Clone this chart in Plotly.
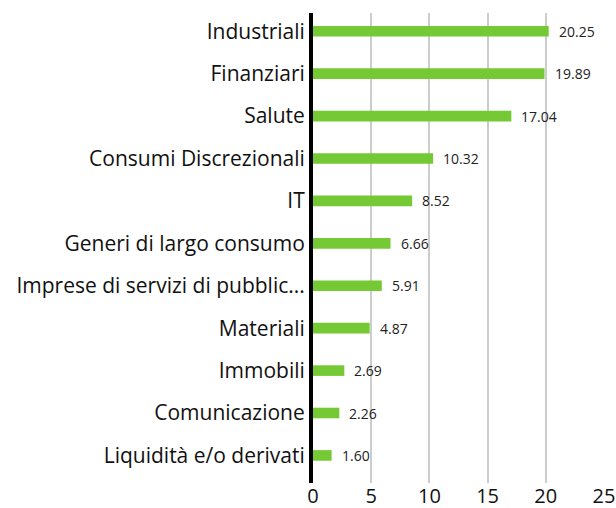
import plotly.graph_objects as go

categories = ["Industriali", "Finanziari", "Salute", "Consumi Discrezionali", "IT",
              "Generi di largo consumo", "Imprese di servizi di pubblic...", "Materiali",
              "Immobili", "Comunicazione", "Liquidità e/o derivati"]
values = [20.25, 19.89, 17.04, 10.32, 8.52, 6.66, 5.91, 4.87, 2.69, 2.26, 1.60]
labels = ["20.25", "19.89", "17.04", "10.32", "8.52", "6.66", "5.91", "4.87", "2.69", "2.26", "1.60"]
x_ticks = [0, 5, 10, 15, 20, 25]

FONT = "Open Sans"

fig = go.Figure(go.Bar(
    x=values, y=categories, orientation="h",
    marker=dict(color="#74c935", line=dict(width=0)),
    width=0.25, hoverinfo="skip",
))

for v, c, t in zip(values, categories, labels):
    fig.add_annotation(x=v, y=c, text=t, showarrow=False, xanchor="left",
                       xshift=8, font=dict(family=FONT, size=14, color="#222222"))

fig.update_layout(
    width=616, height=508,
    margin=dict(l=313, r=12, t=13, b=25),
    paper_bgcolor="white", plot_bgcolor="white",
    showlegend=False,
    font=dict(family=FONT, color="#111111"),
    xaxis=dict(range=[0, 25], tickvals=x_ticks, showgrid=True, gridcolor="#cccccc",
               gridwidth=2, zeroline=False, showline=False, automargin=False,
               ticklabeloverflow="allow", ticklabelstandoff=-1,
               tickfont=dict(size=20, family=FONT, color="#111111"), ticks=""),
    yaxis=dict(categoryorder="array", categoryarray=categories[::-1],
               range=[-0.65, 10.43],
               showline=True, linecolor="black", linewidth=4, showgrid=False,
               zeroline=False, ticks="", ticklabelstandoff=0, automargin=False,
               tickfont=dict(size=21, family=FONT, color="#111111")),
)

fig.write_html(
    "out.html",
    config={"displayModeBar": False},
    post_script="document.body.style.margin='0';document.body.style.overflow='hidden';",
)
